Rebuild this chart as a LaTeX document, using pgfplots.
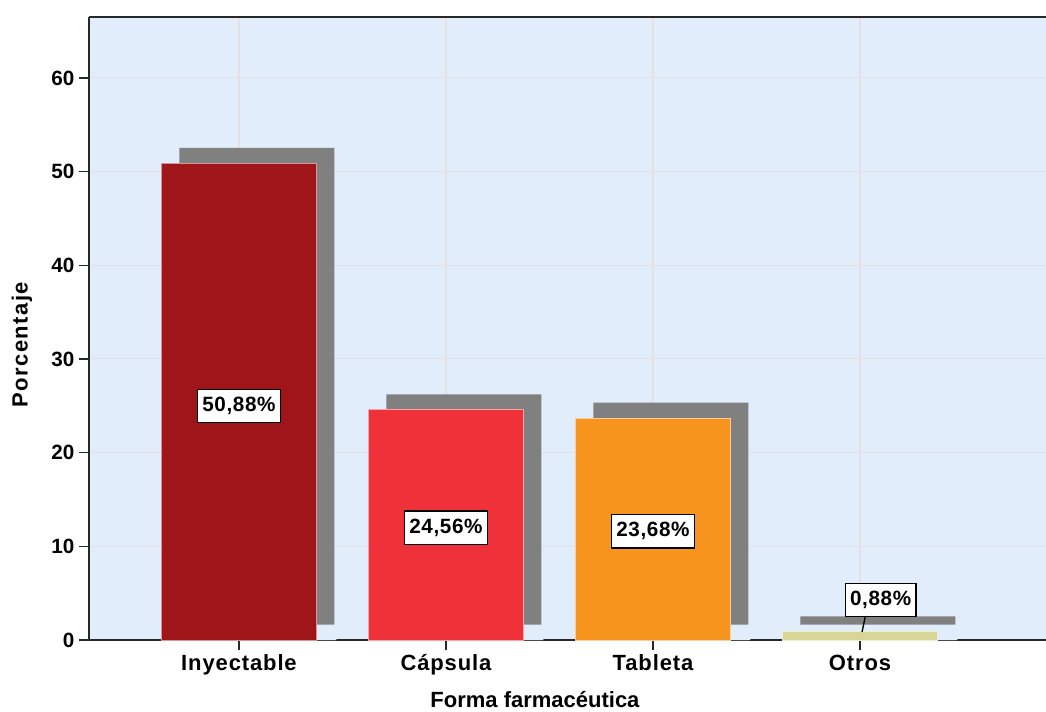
\documentclass[border=0pt]{standalone}
\usepackage{fontspec}
\setmainfont{Liberation Sans}
\newfontfamily\wideA[LetterSpace=4]{Liberation Sans}
\newfontfamily\wideB[LetterSpace=6.5]{Liberation Sans}
\newfontfamily\wideC[LetterSpace=3]{Liberation Sans}
\usepackage{pgfplots}
\pgfplotsset{compat=1.18}
\definecolor{bgcol}{RGB}{225,237,250}
\definecolor{gridcol}{RGB}{228,224,228}
\definecolor{axiscol}{RGB}{40,40,40}
\definecolor{shadowcol}{RGB}{128,128,128}
\definecolor{cA}{RGB}{160,21,26}
\definecolor{cB}{RGB}{239,50,58}
\definecolor{cC}{RGB}{247,148,30}
\definecolor{cD}{RGB}{216,214,150}
\tikzset{lbl/.style={fill=white, draw=black, line width=0.9pt, inner xsep=3.5pt, minimum height=25pt,
    font=\wideC\fontsize{15.5}{18}\selectfont\bfseries}}
\begin{document}
\begin{tikzpicture}
\useasboundingbox (0,0) rectangle (784.5pt,533.25pt);
\begin{axis}[
  at={(66.75pt,53.25pt)}, anchor=south west,
  scale only axis, width=717.75pt, height=467.25pt,
  xmin=-0.7246, xmax=3.8986, ymin=0, ymax=66.5,
  axis x line*=box, axis y line*=left,
  axis line style={draw=axiscol, line width=1.2pt},
  xtick={0,1,2,3}, xticklabels={Inyectable,Cápsula,Tableta,Otros},
  ytick={0,10,...,60},
  tick pos=left, tick align=outside, major tick length=7.5pt,
  tick style={draw=axiscol, line width=1pt},
  grid=major, major grid style={draw=gridcol, line width=0.8pt},
  axis background/.style={fill=bgcol},
  /pgf/number format/assume math mode=true,
  yticklabel style={font=\fontsize{15.5}{17}\selectfont\bfseries},
  xticklabel style={font=\wideA\fontsize{16.5}{19}\selectfont\bfseries, text height=12pt, text depth=3.5pt},
  xlabel={Forma farmacéutica}, ylabel={Porcentaje},
  xlabel style={font=\fontsize{16.5}{19}\selectfont\bfseries, at={(axis description cs:0.466,-0.0963)}, anchor=center},
  ylabel style={font=\wideB\fontsize{16.5}{19}\selectfont\bfseries, at={(axis description cs:-0.070,0.474)}, anchor=center},
  ybar, bar width=116.25pt,
]
% shadows
\addplot[fill=shadowcol, draw=none, bar shift=13.5pt] coordinates {(0,52.53) (1,26.21) (2,25.33) (3,2.53)};
% gap under the shadows
\addplot[fill=bgcol, draw=none, bar shift=13.5pt, bar width=119pt] coordinates {(0,1.65) (1,1.65) (2,1.65) (3,1.65)};
% bars
\addplot[fill=cA, draw=white!55!cA, line width=0.75pt, bar shift=0pt] coordinates {(0,50.88)};
\addplot[fill=cB, draw=white!55!cB, line width=0.75pt, bar shift=0pt] coordinates {(1,24.56)};
\addplot[fill=cC, draw=white!55!cC, line width=0.75pt, bar shift=0pt] coordinates {(2,23.68)};
\addplot[fill=cD, draw=white!55!cD, line width=0.75pt, bar shift=0pt] coordinates {(3,0.88)};
% labels
\node[lbl] at (axis cs:0,25.0) {50,88\%};
\node[lbl] at (axis cs:1,12.0) {24,56\%};
\node[lbl] at (axis cs:2,11.6) {23,68\%};
\draw[black, line width=1pt] (axis cs:3.03,3.0) -- (axis cs:3.01,0.85);
\node[lbl] at (axis cs:3.10,4.27) {0,88\%};
\end{axis}
\end{tikzpicture}
\end{document}
